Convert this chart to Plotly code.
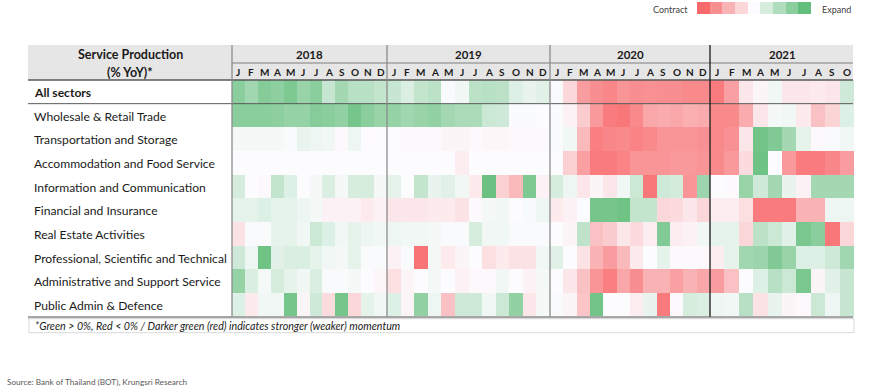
import plotly.graph_objects as go
import numpy as np

# ---------------- DATA ----------------
years = ["2018", "2019", "2020", "2021"]
months_per_year = [
    ["J", "F", "M", "A", "M", "J", "J", "A", "S", "O", "N", "D"],
    ["J", "F", "M", "A", "M", "J", "J", "A", "S", "O", "N", "D"],
    ["J", "F", "M", "A", "M", "J", "J", "A", "S", "O", "N", "D"],
    ["J", "F", "M", "A", "M", "J", "J", "A", "S", "O"],
]
sectors = [
    "All sectors",
    "Wholesale & Retail Trade",
    "Transportation and Storage",
    "Accommodation and Food Service",
    "Information and Communication",
    "Financial and Insurance",
    "Real Estate Activities",
    "Professional, Scientific and Technical",
    "Administrative and Support Service",
    "Public Admin & Defence",
]
# momentum scores (-4 strong contraction ... +4 strong expansion), Jan-2018 .. Oct-2021
all_sectors = [3.0, 2.4, 3.1, 2.9, 3.3, 2.6, 3.0, 1.4, 2.3, 1.8, 1.8, 1.5,
               1.4, 0.9, 1.5, 1.7, 0.1, 0.3, 1.7, 1.8, 1.7, 0.8, 0.5, 0.7,
               0.1, -1.0, -2.6, -3.0, -3.2, -2.8, -3.0, -2.9, -3.0, -3.0, -3.1, -3.1,
               -3.5, -2.5, -0.6, -0.2, 0.3, -0.6, -0.6, -0.5, -0.6, 1.2]
wholesale = [3.0, 3.0, 3.0, 2.9, 2.7, 2.7, 3.1, 3.0, 2.8, 3.5, 3.0, 2.6,
             2.7, 2.4, 2.6, 2.8, 2.3, 2.1, 2.1, 1.3, 1.2, 0.05, 0.05, 0.0,
             0.05, -0.3, -1.3, -2.7, -3.5, -3.6, -3.1, -2.3, -2.2, -2.3, -2.1, -2.2,
             -3.1, -3.1, -2.2, -0.6, 0.2, 0.3, -0.5, -1.6, -1.1, 0.8]
transport = [0.2, 0.2, 0.2, 0.2, 0.1, 0.5, 0.4, 0.3, -0.1, 0.4, -0.05, 0.0,
             0.0, -0.1, -0.1, -0.1, -0.2, -0.2, -0.1, -0.15, -0.15, -0.1, -0.1, -0.05,
             0.05, 0.3, -1.8, -3.4, -3.2, -3.1, -3.3, -3.1, -2.8, -2.8, -2.8, -2.9,
             -3.1, -2.9, -0.6, 3.6, 3.2, 2.3, 0.6, -0.1, 0.1, 0.3]
accommodation = [0.0, 0.0, 0.0, 0.0, 0.0, 0.0, 0.0, 0.0, 0.0, 0.0, 0.0, 0.0,
                 0.0, 0.0, 0.0, 0.0, 0.0, -0.4, 0.0, 0.0, 0.0, 0.0, 0.0, 0.0,
                 0.0, -1.2, -2.5, -3.5, -3.5, -3.3, -2.8, -2.8, -2.8, -2.7, -2.7, -2.8,
                 -3.1, -2.7, -0.9, 3.7, 0.0, -2.7, -3.5, -3.5, -3.2, -2.6]
info_comm = [1.0, 0.0, -0.1, 1.5, 0.8, 0.0, 0.2, 0.9, 0.2, 1.0, 1.0, 0.2,
             0.6, 0.0, 1.5, 0.5, 0.7, 0.3, -0.5, 3.8, -1.2, -1.8, 3.3, -0.3,
             1.0, 0.4, -0.6, -0.2, -0.6, 0.3, 1.3, -3.6, 1.2, 1.1, -2.8, 2.5,
             0.0, -0.05, 2.6, 1.2, 2.3, 0.5, -0.3, 2.3, 2.3, 2.3]
financial = [0.6, 0.6, 0.8, 0.6, 0.6, 0.4, 0.2, -0.3, -0.3, -0.3, -0.5, -0.3,
             -0.6, -0.6, -0.6, -0.5, -0.5, -0.7, -0.05, 0.2, 0.3, 0.0, 0.15, 0.4,
             -0.5, -0.3, 0.0, 3.5, 3.5, 3.7, 1.5, 1.5, -1.0, -0.9, -0.6, -1.0,
             -0.4, -0.4, -0.8, -3.5, -3.5, -3.5, -2.0, -2.0, 0.4, 0.4]
real_estate = [-0.7, 0.1, 0.1, 0.6, 0.6, 0.3, 1.3, 0.8, 0.3, 0.6, 0.4, 0.3,
               0.4, 0.3, 0.3, 0.2, 0.1, 0.1, 1.0, 0.3, 0.3, 0.1, 0.1, 0.1,
               0.0, -0.2, 1.6, -1.6, -1.3, -0.6, -0.9, -0.4, 3.2, -0.4, -0.3, 0.3,
               0.6, 0.6, -1.0, 1.7, 1.3, 0.7, 3.4, 3.0, -3.6, -1.0]
professional = [1.2, 0.4, 3.7, 0.7, 0.9, 0.9, 0.6, 0.3, 0.2, 0.6, 0.1, 0.1,
                -0.3, 0.1, -3.7, 0.2, -0.5, -0.2, 0.0, -0.8, -0.5, -0.7, -0.7, 0.3,
                0.7, 0.0, -0.7, -2.0, -2.6, -1.8, -0.5, 0.0, 0.6, -0.05, -0.05, -0.1,
                -0.4, 0.6, 2.4, 2.5, 3.2, 2.6, 0.8, 0.8, 1.2, 2.4]
administrative = [2.7, 0.9, 0.2, 1.0, 0.6, 0.3, 0.9, 0.1, 0.1, 0.2, 0.0, -0.15,
                  -0.8, -0.2, 0.0, 0.2, 0.0, -0.3, -0.1, -0.1, 0.3, 0.0, -0.3, 0.2,
                  0.0, -0.6, -1.6, -2.8, -3.4, -2.3, -3.0, -2.0, -2.0, -2.5, -2.0, -2.3,
                  -2.6, -1.6, 0.0, 0.8, 1.8, 1.3, 3.4, -0.2, 0.7, 1.4]
public_admin = [0.8, -0.5, 0.3, 0.3, 3.5, -0.2, 1.2, -0.9, 3.5, -1.0, 0.6, 0.3,
                0.8, -0.2, 2.8, 0.4, -1.6, 1.2, 1.2, 0.3, 1.3, 2.8, -0.6, 0.2,
                0.1, -0.2, -1.5, 3.6, 0.0, 0.0, -0.4, 0.5, -3.5, -0.1, 1.0, 0.9,
                0.4, 0.3, 1.8, -0.7, 0.5, -0.2, -0.1, 1.3, 0.4, 1.4]
values = [all_sectors, wholesale, transport, accommodation, info_comm,
          financial, real_estate, professional, administrative, public_admin]
legend_levels = [-4, -3, -2, -1, 0, 1, 2, 3, 4]

header_title = ["Service Production", "(% YoY)*"]
footnote = "*Green > 0%, Red < 0% / Darker green (red) indicates stronger (weaker) momentum"
source = "Source: Bank of Thailand (BOT), Krungsri Research"

# ---------------- LAYOUT CONSTANTS (axis units = window pixels) ----------------
W, H = 870, 392
year_bounds = [232, 387, 550, 710, 854]
row_top, row_h = 80, 23.67
hdr_top, hdr_mid = 45, 63
label_left = 28
FONT = "Lato"
colorscale = [[0, "#F8696B"], [0.5, "#FCFCFF"], [1, "#63BE7B"]]

x_edges = []
for i, m in enumerate(months_per_year):
    e = np.linspace(year_bounds[i], year_bounds[i + 1], len(m) + 1)
    x_edges.extend(list(e if i == 0 else e[1:]))
y_edges = [row_top + i * row_h for i in range(len(sectors) + 1)]
grid_bottom = y_edges[-1]

fig = go.Figure()
fig.add_trace(go.Heatmap(
    z=values, x=x_edges, y=y_edges, colorscale=colorscale,
    zmin=-4, zmax=4, showscale=False, hoverinfo="skip"))
# colour legend
fig.add_trace(go.Heatmap(
    z=[legend_levels], x=list(np.linspace(697, 811, len(legend_levels) + 1)),
    y=[2, 14], colorscale=colorscale, zmin=-4, zmax=4,
    showscale=False, hoverinfo="skip"))

shapes = []
shapes.append(dict(type="rect", x0=label_left, x1=year_bounds[-1] - 1, y0=hdr_top, y1=row_top,
                   fillcolor="#E7E6E6", line=dict(width=0), layer="below"))
shapes.append(dict(type="line", x0=year_bounds[0], x1=year_bounds[-1] - 1, y0=hdr_mid, y1=hdr_mid,
                   line=dict(color="#7F7F7F", width=1)))
shapes.append(dict(type="line", x0=label_left, x1=year_bounds[-1] - 1, y0=row_top, y1=row_top,
                   line=dict(color="#595959", width=1.3)))
shapes.append(dict(type="line", x0=label_left, x1=year_bounds[-1] - 1, y0=y_edges[1], y1=y_edges[1],
                   line=dict(color="#595959", width=1)))
shapes.append(dict(type="line", x0=label_left, x1=year_bounds[-1] - 1, y0=grid_bottom + 0.5,
                   y1=grid_bottom + 0.5, line=dict(color="#A6A6A6", width=2.5)))
for i, xb in enumerate(year_bounds[:-1]):
    col = "#1A1A1A" if i == 3 else "#8C8C8C"
    shapes.append(dict(type="line", x0=xb, x1=xb, y0=hdr_top, y1=grid_bottom,
                       line=dict(color=col, width=1.3)))
shapes.append(dict(type="rect", x0=label_left + 1, x1=year_bounds[-1], y0=grid_bottom + 2,
                   y1=grid_bottom + 16, line=dict(color="#D9D9D9", width=1)))

ann = []
ann.append(dict(x=130, y=54.5, text="<b>%s</b>" % header_title[0], showarrow=False,
                font=dict(family=FONT, size=12.5, color="#1a1a1a"), xanchor="center", yanchor="middle"))
ann.append(dict(x=130, y=72, text="<b>%s</b>" % header_title[1], showarrow=False,
                font=dict(family=FONT, size=12.5, color="#1a1a1a"), xanchor="center", yanchor="middle"))
for i, yr in enumerate(years):
    ann.append(dict(x=(year_bounds[i] + year_bounds[i + 1]) / 2, y=54.5, text="<b>%s</b>" % yr,
                    showarrow=False, font=dict(family=FONT, size=11.5, color="#1a1a1a"),
                    xanchor="center", yanchor="middle"))
k = 0
for i, m in enumerate(months_per_year):
    for lab in m:
        ann.append(dict(x=(x_edges[k] + x_edges[k + 1]) / 2, y=72, text="<b>%s</b>" % lab,
                        showarrow=False, font=dict(family=FONT, size=10, color="#1a1a1a"),
                        xanchor="center", yanchor="middle"))
        k += 1
for r, s in enumerate(sectors):
    txt = "<b>%s</b>" % s if r == 0 else s
    ann.append(dict(x=32, y=(y_edges[r] + y_edges[r + 1]) / 2 + 0.5, text=txt, showarrow=False,
                    font=dict(family=FONT, size=12.1, color="#1a1a1a"),
                    xanchor="left", yanchor="middle"))
ann.append(dict(x=33, y=grid_bottom + 9, text="<i>%s</i>" % footnote, showarrow=False,
                font=dict(family=FONT, size=10.7, color="#1a1a1a"), xanchor="left", yanchor="middle"))
ann.append(dict(x=5, y=382, text=source, showarrow=False,
                font=dict(family=FONT, size=8.2, color="#595959"), xanchor="left", yanchor="middle"))
ann.append(dict(x=690, y=9, text="Contract", showarrow=False,
                font=dict(family=FONT, size=9, color="#404040"), xanchor="right", yanchor="middle"))
ann.append(dict(x=820, y=9, text="Expand", showarrow=False,
                font=dict(family=FONT, size=9, color="#404040"), xanchor="left", yanchor="middle"))

fig.update_layout(
    width=W, height=H, margin=dict(l=0, r=0, t=0, b=0),
    paper_bgcolor="white", plot_bgcolor="white",
    xaxis=dict(range=[0, W], visible=False, fixedrange=True),
    yaxis=dict(range=[H, 0], visible=False, fixedrange=True),
    shapes=shapes, annotations=ann, showlegend=False,
)
fig.write_html("out.html", config={"displayModeBar": False},
               post_script="document.body.style.margin='0';document.body.style.overflow='hidden';")
